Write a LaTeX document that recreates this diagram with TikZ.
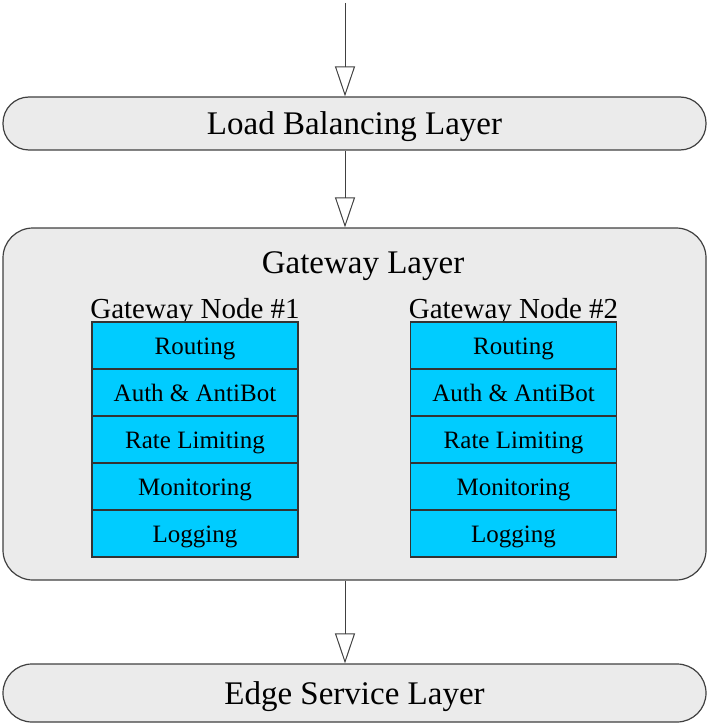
\documentclass[tikz,border=0pt]{standalone}
\usepackage{fontspec}
\setmainfont{Liberation Serif}
\usetikzlibrary{arrows.meta, positioning, calc}
\definecolor{layergray}{HTML}{EBEBEB}
\definecolor{cellblue}{HTML}{00CCFF}
\tikzset{
  layer/.style={draw=black!75, fill=layergray, line width=0.6pt, minimum width=351.5pt, text height=11pt, text depth=0pt, font=\fontsize{16.5}{20}\selectfont},
  cell/.style={draw=black!80, fill=cellblue, line width=0.6pt, minimum width=103pt, minimum height=23.5pt, outer sep=0pt, inner sep=0pt, text height=8.5pt, text depth=0pt, font=\fontsize{12.5}{15}\selectfont},
  flow/.style={draw=black!75, line width=0.5pt, -{Triangle[open,length=15pt,width=10pt]}}
}

\begin{document}
\begin{tikzpicture}[x=0.5pt, y=-0.5pt]
\useasboundingbox (0,0) rectangle (709,727);

% Layers
\node[layer, minimum height=26.5pt, rounded corners=13pt] (lb) at (354.5,123.5) {Load Balancing Layer};
\node[layer, minimum height=176pt, rounded corners=15pt] (gw) at (354.5,404) {};
\node[font=\fontsize{16.5}{20}\selectfont] (gwtitle) at (363,266) {Gateway Layer};
\node[layer, minimum height=29pt, rounded corners=14.5pt] (es) at (354.5,693) {Edge Service Layer};

% Gateway nodes
\foreach \n/\x in {1/195, 2/513.5} {
  \node[font=\fontsize{14.5}{17}\selectfont, anchor=base] (gn\n) at (\x,318) {Gateway Node \#\n};
  \foreach \txt [count=\i] in {Routing, Auth \& AntiBot, Rate Limiting, Monitoring, Logging} {
    \pgfmathsetmacro\y{322 + (\i-0.5)*47}
    \node[cell] (c\n\i) at (\x,\y) {\txt};
  }
}

% Flow
\coordinate (top) at (345,3);
\draw[flow] (top) -- (top |- lb.north);
\draw[flow] (lb.south -| top) -- (gw.north -| top);
\draw[flow] (gw.south -| top) -- (es.north -| top);
\end{tikzpicture}
\end{document}
